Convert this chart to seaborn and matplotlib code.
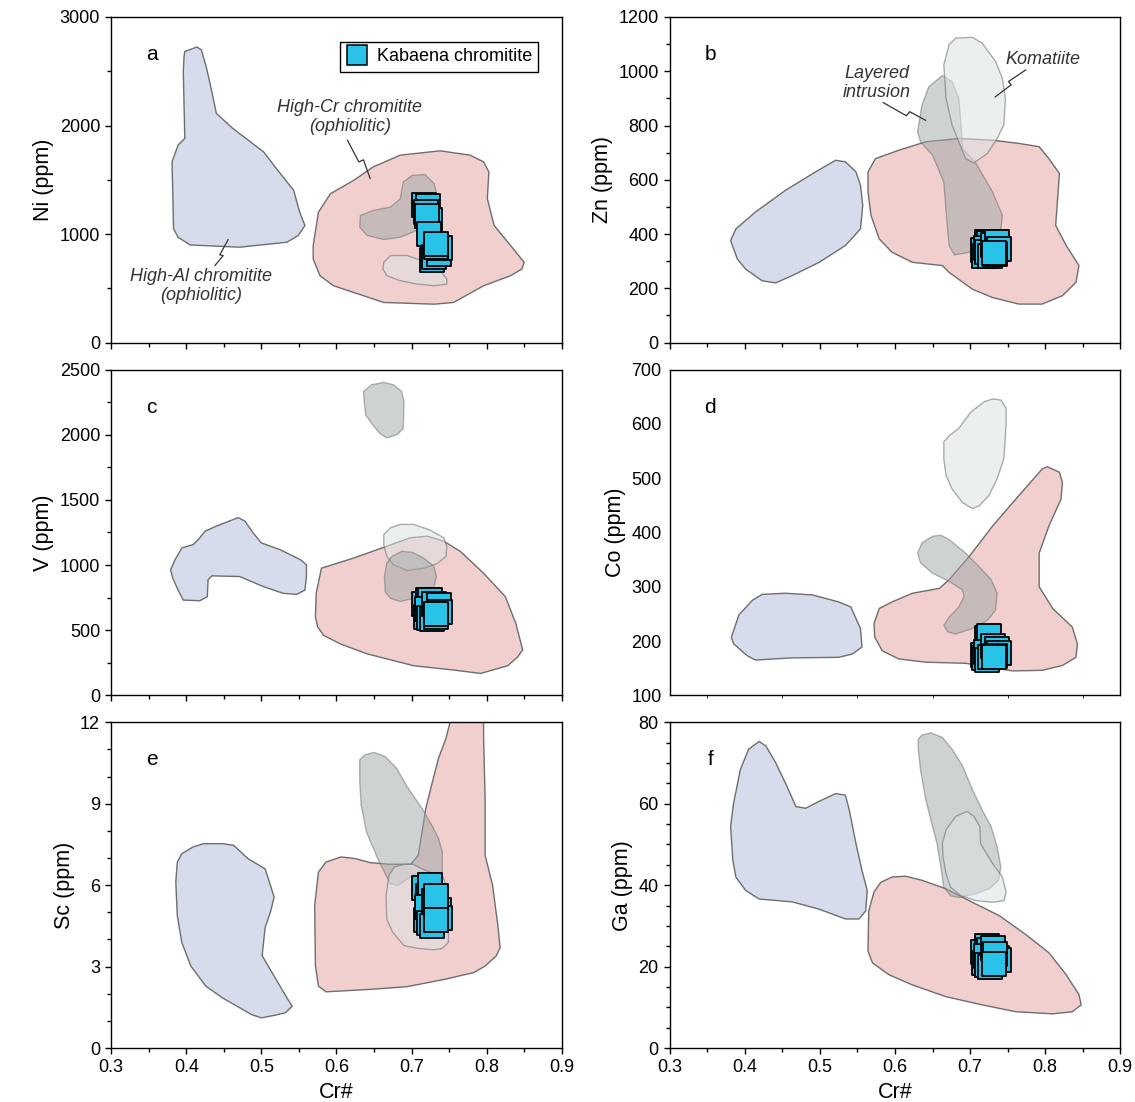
import matplotlib
matplotlib.use("Agg")
import matplotlib.pyplot as plt
from matplotlib.lines import Line2D
from matplotlib.ticker import MultipleLocator, NullLocator
import seaborn as sns
import pandas as pd

# Kabaena chromitite samples: Cr# and trace-element contents (ppm)
cr_num = [0.717, 0.722, 0.719, 0.725, 0.721, 0.723, 0.727, 0.730, 0.736, 0.738, 0.733, 0.732]
ni = [1270, 1255, 1200, 1130, 1165, 1000, 760, 790, 820, 870, 880, 905]
zn = [340, 372, 320, 368, 350, 335, 318, 360, 372, 345, 325, 330]
v = [700, 735, 600, 730, 660, 590, 585, 700, 690, 640, 600, 622]
co = [175, 205, 168, 210, 180, 165, 170, 190, 185, 178, 172, 170]
sc = [5.9, 5.6, 4.7, 6.0, 5.2, 4.6, 4.5, 5.4, 5.1, 4.8, 5.6, 4.7]
ga = [23.5, 25.0, 21.0, 24.0, 22.5, 20.5, 20.0, 24.5, 22.0, 21.5, 23.0, 20.7]

# Reference fields (Cr#, ppm) outlines
ni_high_al = [(0.398, 2682), (0.414, 2723), (0.420, 2698), (0.427, 2528), (0.434, 2312), (0.440, 2112),
              (0.462, 1973), (0.503, 1757), (0.520, 1603), (0.543, 1403), (0.551, 1202), (0.558, 1079),
              (0.549, 987), (0.534, 925), (0.471, 879), (0.405, 900), (0.389, 971), (0.383, 1048),
              (0.381, 1665), (0.389, 1819), (0.398, 1881), (0.396, 2497), (0.397, 2636)]
ni_high_cr = [(0.569, 894), (0.576, 1202), (0.592, 1372), (0.623, 1495), (0.649, 1619), (0.685, 1727),
              (0.738, 1767), (0.778, 1727), (0.796, 1665), (0.803, 1572), (0.801, 1326), (0.810, 1079),
              (0.832, 894), (0.850, 740), (0.847, 678), (0.832, 617), (0.796, 524), (0.756, 370),
              (0.730, 354), (0.663, 370), (0.596, 524), (0.578, 617), (0.569, 771)]
ni_layered = [(0.632, 1172), (0.649, 1218), (0.672, 1249), (0.685, 1326), (0.689, 1480), (0.701, 1542),
              (0.718, 1548), (0.730, 1465), (0.734, 1357), (0.730, 1202), (0.712, 1048), (0.685, 971),
              (0.663, 950), (0.641, 987), (0.631, 1064)]
ni_komatiite = [(0.663, 740), (0.672, 802), (0.694, 802), (0.721, 740), (0.738, 663), (0.747, 586),
                (0.747, 540), (0.730, 524), (0.707, 540), (0.685, 570), (0.667, 617), (0.662, 678)]

zn_high_al = [(0.381, 376), (0.388, 419), (0.414, 481), (0.454, 561), (0.494, 629), (0.521, 672),
              (0.534, 666), (0.548, 629), (0.554, 580), (0.557, 506), (0.554, 419), (0.534, 358),
              (0.499, 296), (0.463, 247), (0.441, 220), (0.423, 228), (0.401, 271), (0.390, 308)]
zn_high_cr = [(0.564, 629), (0.574, 678), (0.605, 709), (0.641, 740), (0.685, 752), (0.730, 746),
              (0.765, 734), (0.792, 722), (0.805, 678), (0.819, 623), (0.814, 432), (0.828, 358),
              (0.845, 284), (0.841, 222), (0.823, 173), (0.796, 142), (0.765, 142), (0.730, 166),
              (0.703, 197), (0.672, 259), (0.663, 284), (0.623, 296), (0.596, 333), (0.579, 382),
              (0.568, 469), (0.564, 555)]
zn_layered = [(0.630, 777), (0.636, 876), (0.645, 943), (0.663, 984), (0.676, 962), (0.685, 900),
              (0.688, 802), (0.690, 715), (0.708, 660), (0.730, 555), (0.743, 469), (0.741, 419),
              (0.725, 370), (0.699, 333), (0.679, 323), (0.672, 358), (0.668, 481), (0.665, 592),
              (0.650, 691), (0.634, 740)]
zn_komatiite = [(0.665, 1024), (0.672, 1098), (0.681, 1122), (0.703, 1125), (0.716, 1104), (0.734, 1036),
                (0.743, 974), (0.747, 900), (0.745, 802), (0.736, 752), (0.723, 697), (0.705, 662),
                (0.694, 678), (0.685, 740), (0.676, 802), (0.668, 900)]

v_high_al = [(0.379, 963), (0.385, 1041), (0.394, 1131), (0.409, 1157), (0.416, 1196), (0.425, 1260),
             (0.440, 1299), (0.454, 1330), (0.469, 1364), (0.478, 1338), (0.489, 1247), (0.500, 1170),
             (0.525, 1118), (0.552, 1041), (0.560, 1002), (0.560, 912), (0.558, 808), (0.547, 775),
             (0.529, 783), (0.503, 834), (0.471, 912), (0.434, 917), (0.429, 886), (0.428, 757),
             (0.418, 726), (0.396, 731), (0.389, 808), (0.382, 899)]
v_high_cr = [(0.572, 602), (0.573, 783), (0.580, 976), (0.623, 1054), (0.667, 1144), (0.698, 1209),
             (0.721, 1222), (0.743, 1183), (0.765, 1105), (0.796, 937), (0.825, 757), (0.839, 550),
             (0.848, 349), (0.841, 292), (0.828, 227), (0.792, 168), (0.756, 194), (0.703, 227),
             (0.641, 318), (0.605, 395), (0.583, 460), (0.575, 524)]
v_layered_high = [(0.636, 2332), (0.647, 2384), (0.663, 2402), (0.676, 2384), (0.687, 2332), (0.690, 2255),
                  (0.689, 2048), (0.681, 2002), (0.667, 1976), (0.658, 2009), (0.647, 2087), (0.639, 2151),
                  (0.637, 2255)]
v_layered = [(0.667, 1015), (0.674, 1067), (0.687, 1105), (0.701, 1098), (0.716, 1054), (0.730, 989),
             (0.733, 912), (0.730, 834), (0.721, 783), (0.703, 744), (0.685, 721), (0.672, 744),
             (0.665, 795), (0.664, 912)]
v_komatiite = [(0.663, 1234), (0.672, 1286), (0.685, 1312), (0.703, 1312), (0.725, 1268), (0.743, 1209),
               (0.747, 1144), (0.746, 1067), (0.734, 1010), (0.716, 976), (0.694, 958), (0.676, 1002),
               (0.667, 1067), (0.663, 1157)]

co_high_al = [(0.382, 207), (0.392, 248), (0.410, 275), (0.423, 286), (0.454, 288), (0.490, 285),
              (0.525, 272), (0.541, 263), (0.554, 223), (0.556, 189), (0.543, 176), (0.525, 170),
              (0.463, 169), (0.414, 165), (0.403, 173), (0.385, 195)]
co_high_cr = [(0.572, 232), (0.579, 260), (0.596, 272), (0.623, 288), (0.659, 297), (0.672, 313),
              (0.699, 356), (0.730, 412), (0.765, 468), (0.796, 517), (0.803, 521), (0.819, 511),
              (0.823, 492), (0.821, 461), (0.805, 412), (0.792, 362), (0.792, 300), (0.810, 260),
              (0.836, 226), (0.843, 195), (0.841, 170), (0.823, 155), (0.796, 146), (0.756, 145),
              (0.730, 151), (0.694, 159), (0.641, 161), (0.605, 167), (0.583, 182), (0.573, 207)]
co_layered = [(0.630, 362), (0.636, 381), (0.650, 393), (0.661, 395), (0.672, 387), (0.694, 362),
              (0.712, 337), (0.728, 313), (0.736, 288), (0.734, 257), (0.723, 238), (0.703, 223),
              (0.681, 213), (0.670, 217), (0.665, 229), (0.672, 244), (0.685, 263), (0.692, 282),
              (0.690, 294), (0.672, 310), (0.650, 325), (0.634, 344)]
co_komatiite = [(0.665, 567), (0.672, 578), (0.685, 592), (0.701, 622), (0.719, 641), (0.730, 646),
                (0.741, 644), (0.748, 629), (0.748, 598), (0.745, 536), (0.736, 499), (0.725, 468),
                (0.712, 449), (0.703, 444), (0.690, 455), (0.676, 480), (0.668, 505), (0.665, 536)]

sc_high_al = [(0.388, 6.85), (0.394, 7.16), (0.409, 7.41), (0.423, 7.53), (0.448, 7.53), (0.463, 7.47),
              (0.482, 6.98), (0.505, 6.60), (0.510, 6.17), (0.517, 5.56), (0.512, 5.00), (0.505, 4.44),
              (0.501, 3.40), (0.517, 2.65), (0.534, 1.85), (0.541, 1.54), (0.532, 1.30), (0.517, 1.20),
              (0.500, 1.11), (0.487, 1.23), (0.448, 1.85), (0.426, 2.28), (0.406, 3.02), (0.394, 3.89),
              (0.388, 4.88), (0.386, 6.11)]
sc_high_cr = [(0.571, 5.25), (0.576, 6.48), (0.586, 6.85), (0.606, 7.04), (0.625, 6.98), (0.645, 6.83),
              (0.670, 6.77), (0.699, 6.77), (0.709, 7.10), (0.719, 8.83), (0.729, 9.94), (0.736, 10.68),
              (0.746, 11.42), (0.754, 12.3), (0.796, 12.3), (0.796, 11.42), (0.798, 9.20), (0.798, 7.10),
              (0.808, 5.99), (0.815, 4.51), (0.818, 3.70), (0.813, 3.40), (0.798, 3.02), (0.783, 2.78),
              (0.744, 2.53), (0.694, 2.26), (0.645, 2.16), (0.586, 2.07), (0.576, 2.28), (0.572, 3.02)]
sc_layered = [(0.631, 10.62), (0.638, 10.80), (0.650, 10.89), (0.665, 10.74), (0.680, 10.31), (0.694, 9.63),
              (0.714, 8.83), (0.727, 8.21), (0.736, 7.72), (0.741, 7.22), (0.741, 6.48), (0.729, 6.36),
              (0.709, 6.48), (0.694, 6.23), (0.682, 5.99), (0.672, 6.05), (0.665, 6.42), (0.655, 6.98),
              (0.640, 7.96), (0.633, 8.95), (0.631, 9.81)]
sc_komatiite = [(0.670, 6.36), (0.677, 6.67), (0.690, 6.77), (0.702, 6.77), (0.714, 6.60), (0.729, 6.42),
                (0.741, 6.36), (0.746, 5.99), (0.749, 4.88), (0.749, 3.89), (0.741, 3.67), (0.729, 3.62),
                (0.709, 3.67), (0.690, 3.77), (0.675, 4.26), (0.667, 4.75), (0.666, 5.62)]

ga_high_al = [(0.381, 54.4), (0.385, 60.2), (0.394, 68.4), (0.405, 73.4), (0.419, 75.3), (0.428, 74.2),
              (0.441, 70.1), (0.456, 64.3), (0.468, 59.3), (0.481, 58.9), (0.499, 60.6), (0.521, 62.5),
              (0.534, 62.1), (0.539, 58.5), (0.548, 50.2), (0.556, 43.6), (0.563, 38.7), (0.561, 33.7),
              (0.552, 31.7), (0.534, 31.7), (0.499, 34.1), (0.463, 35.9), (0.419, 36.6), (0.401, 38.7),
              (0.388, 42.0), (0.384, 46.1)]
ga_high_cr = [(0.564, 23.8), (0.565, 33.7), (0.572, 38.3), (0.581, 40.7), (0.596, 42.0), (0.614, 42.2),
              (0.636, 41.2), (0.668, 39.1), (0.703, 35.8), (0.739, 32.5), (0.774, 27.9), (0.805, 23.4),
              (0.828, 18.0), (0.845, 13.1), (0.848, 10.6), (0.836, 8.9), (0.810, 8.4), (0.761, 8.9),
              (0.716, 10.6), (0.668, 12.6), (0.623, 15.5), (0.592, 18.0), (0.570, 20.9)]
ga_layered = [(0.631, 75.9), (0.636, 76.9), (0.648, 77.4), (0.663, 76.3), (0.676, 73.4), (0.690, 69.3),
              (0.703, 63.5), (0.716, 58.5), (0.728, 54.4), (0.736, 49.4), (0.741, 44.5), (0.738, 41.2),
              (0.725, 39.1), (0.708, 37.9), (0.685, 37.0), (0.674, 37.4), (0.665, 39.5), (0.661, 44.5),
              (0.656, 50.2), (0.650, 54.4), (0.641, 61.0), (0.634, 68.4), (0.631, 73.4)]
ga_komatiite = [(0.663, 50.2), (0.668, 53.6), (0.681, 56.9), (0.696, 58.1), (0.705, 56.9), (0.713, 54.4),
                (0.714, 50.2), (0.719, 48.6), (0.730, 45.3), (0.743, 42.0), (0.748, 38.3), (0.745, 36.2),
                (0.730, 35.8), (0.708, 36.2), (0.688, 37.4), (0.674, 39.5), (0.668, 42.8), (0.664, 46.9)]

# Field styles
STYLE = {
    "high_al": dict(facecolor="#d6dcec", alpha=1.0),
    "high_cr": dict(facecolor="#f1cfcf", alpha=1.0),
    "layered": dict(facecolor="#9ea6a6", alpha=0.5),
    "komatiite": dict(facecolor="#dde2e4", alpha=0.55),
}

panels = [
    dict(letter="a", y=ni, ylabel="Ni (ppm)", ylim=(0, 3000), major=1000, minor=500,
         fields=[("high_cr", ni_high_cr), ("high_al", ni_high_al), ("layered", ni_layered),
                 ("komatiite", ni_komatiite)], ticks=True),
    dict(letter="b", y=zn, ylabel="Zn (ppm)", ylim=(0, 1200), major=200, minor=100,
         fields=[("high_cr", zn_high_cr), ("high_al", zn_high_al), ("layered", zn_layered),
                 ("komatiite", zn_komatiite)], ticks=True),
    dict(letter="c", y=v, ylabel="V (ppm)", ylim=(0, 2500), major=500, minor=250,
         fields=[("high_cr", v_high_cr), ("high_al", v_high_al), ("komatiite", v_komatiite),
                 ("layered", v_layered), ("layered", v_layered_high)], ticks=True),
    dict(letter="d", y=co, ylabel="Co (ppm)", ylim=(100, 700), major=100, minor=50,
         fields=[("high_cr", co_high_cr), ("high_al", co_high_al), ("layered", co_layered),
                 ("komatiite", co_komatiite)], ticks=False),
    dict(letter="e", y=sc, ylabel="Sc (ppm)", ylim=(0, 12), major=3, minor=1,
         fields=[("high_cr", sc_high_cr), ("high_al", sc_high_al), ("layered", sc_layered),
                 ("komatiite", sc_komatiite)], ticks=True),
    dict(letter="f", y=ga, ylabel="Ga (ppm)", ylim=(0, 80), major=20, minor=5,
         fields=[("high_cr", ga_high_cr), ("high_al", ga_high_al), ("layered", ga_layered),
                 ("komatiite", ga_komatiite)], ticks=True),
]

sns.set_style("ticks")
plt.rcParams["font.family"] = ["Liberation Sans", "DejaVu Sans"]
plt.rcParams.update({
    "axes.linewidth": 1.0,
    "axes.edgecolor": "black",
    "axes.labelcolor": "black",
    "text.color": "black",
    "xtick.color": "black",
    "ytick.color": "black",
})

MARKER_COLOR = "#29c3e8"
TEXT_COLOR = "#333333"

fig, axes = plt.subplots(3, 2, figsize=(11.35, 11.02), dpi=100, sharex="col")
fig.subplots_adjust(left=0.098, right=0.987, top=0.9846, bottom=0.049, wspace=0.24, hspace=0.083)

for ax, p in zip(axes.flat, panels):
    for kind, pts in p["fields"]:
        xs, ys = zip(*pts)
        ax.fill(xs, ys, edgecolor="#6e6e6e", linewidth=1.0, zorder=2, **STYLE[kind])

    df = pd.DataFrame({"Cr#": cr_num, "val": p["y"]})
    sns.scatterplot(data=df, x="Cr#", y="val", ax=ax, marker="s", s=320, color=MARKER_COLOR,
                    edgecolor="black", linewidth=1.3, zorder=5, legend=False)

    ax.set_xlim(0.3, 0.9)
    ax.set_ylim(*p["ylim"])
    ax.set_ylabel(p["ylabel"], fontsize=15.5)
    ax.set_xlabel("")
    ax.xaxis.set_major_locator(MultipleLocator(0.1))
    ax.yaxis.set_major_locator(MultipleLocator(p["major"]))
    if p["ticks"]:
        ax.xaxis.set_minor_locator(MultipleLocator(0.05))
        ax.yaxis.set_minor_locator(MultipleLocator(p["minor"]))
        ax.tick_params(which="major", direction="out", length=4.5, width=1.0, labelsize=13)
        ax.tick_params(which="minor", direction="out", length=3, width=1.0)
    else:
        ax.xaxis.set_minor_locator(NullLocator())
        ax.yaxis.set_minor_locator(NullLocator())
        ax.tick_params(which="major", length=0, labelsize=13, pad=6)
    for side in ("top", "right"):
        ax.spines[side].set_visible(True)
    ax.text(0.09, 0.885, p["letter"], transform=ax.transAxes, fontsize=15, ha="center", va="center")

for ax in axes[-1]:
    ax.set_xlabel("Cr#", fontsize=15.5)
    ax.set_xticks([0.3, 0.4, 0.5, 0.6, 0.7, 0.8, 0.9])
    ax.set_xticklabels(["0.3", "0.4", "0.5", "0.6", "0.7", "0.8", "0.9"])

# Field labels and zigzag leaders
ax_a, ax_b = axes[0, 0], axes[0, 1]
ann = dict(fontsize=13, style="italic", color=TEXT_COLOR, ha="center", va="center", linespacing=1.15)
ax_a.text(0.618, 2081, "High-Cr chromitite\n(ophiolitic)", **ann)
ax_a.plot([0.6146, 0.6298, 0.636, 0.6449], [1865, 1665, 1684, 1511], color="#333333", lw=0.9, zorder=4)
ax_a.text(0.420, 524, "High-Al chromitite\n(ophiolitic)", **ann)
ax_a.plot([0.4558, 0.4446, 0.4491, 0.438], [950, 808, 802, 709], color="#333333", lw=0.9, zorder=4)
ax_b.text(0.576, 957, "Layered\nintrusion", **ann)
ax_b.plot([0.584, 0.6151, 0.6196, 0.6409], [885, 836, 851, 819], color="#333333", lw=0.9, zorder=4)
ax_b.text(0.7964, 1042, "Komatiite", **ann)
ax_b.plot([0.7742, 0.7511, 0.7547, 0.7333], [1005, 962, 950, 905], color="#333333", lw=0.9, zorder=4)

handle = Line2D([], [], marker="s", linestyle="none", markersize=14, markerfacecolor=MARKER_COLOR,
                markeredgecolor="black", markeredgewidth=1.1)
leg = ax_a.legend([handle], ["Kabaena chromitite"], loc="upper right", bbox_to_anchor=(0.948, 0.923),
                  borderaxespad=0, fancybox=False, framealpha=1, edgecolor="black", fontsize=13,
                  handletextpad=0.5, borderpad=0.35, handlelength=1.2)
leg.get_frame().set_linewidth(1.0)

fig.savefig("out.png", dpi=100)
